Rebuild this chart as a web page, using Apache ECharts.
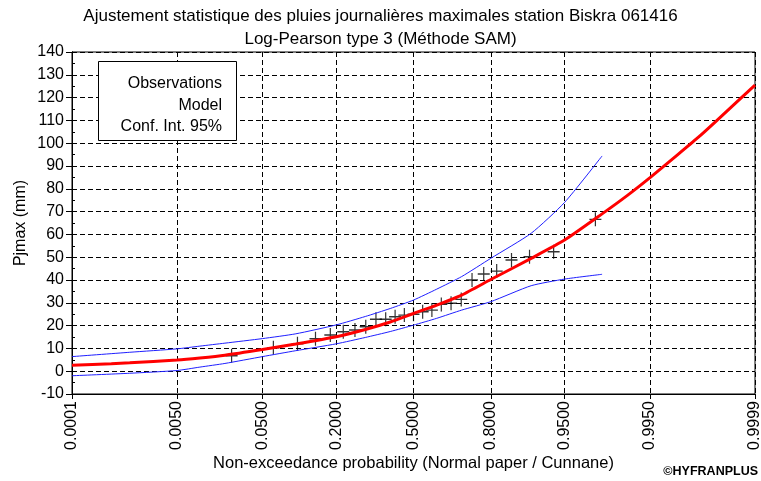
<!DOCTYPE html>
<html>
<head>
<meta charset="utf-8">
<script src="https://cdn.jsdelivr.net/npm/echarts@6/dist/echarts.min.js"></script>
<style>
  html, body { margin: 0; padding: 0; background: #ffffff; }
  #chart { width: 761px; height: 481px; }
</style>
</head>
<body>
<div id="chart"></div>
<script>
// ---- Texts ----
const titleLines = [
  'Ajustement statistique des pluies journalières maximales station Biskra 061416',
  'Log-Pearson type 3 (Méthode SAM)'
];
const xAxisTitle = 'Non-exceedance probability (Normal paper / Cunnane)';
const yAxisTitle = 'Pjmax (mm)';
const legendLabels = ['Observations', 'Model', 'Conf. Int. 95%'];
const copyright = '©HYFRANPLUS';

// ---- Axes ----
const probTicks = [0.0001, 0.005, 0.05, 0.2, 0.5, 0.8, 0.95, 0.995, 0.9999];
const probTickLabels = ['0.0001', '0.0050', '0.0500', '0.2000', '0.5000', '0.8000', '0.9500', '0.9950', '0.9999'];
const yMin = -10, yMax = 140, yStep = 10;

// ---- Observed maxima (Cunnane plotting positions, mm) ----
const obsProb = [0.0238, 0.0635, 0.1032, 0.1429, 0.1825, 0.2222, 0.2619, 0.3016, 0.3413, 0.3810,
                 0.4206, 0.4603, 0.5000, 0.5397, 0.5794, 0.6190, 0.6587, 0.6984, 0.7381, 0.7778,
                 0.8175, 0.8571, 0.8968, 0.9365, 0.9762];
const obsValue = [6.8, 10.3, 12.0, 14.2, 15.9, 17.3, 18.1, 19.5, 22.8, 22.8,
                  23.9, 24.6, 25.0, 26.1, 26.8, 29.3, 29.8, 31.5, 40.0, 42.6,
                  43.9, 48.8, 50.2, 52.4, 66.6];

// ---- Fitted Log-Pearson III quantiles ----
const modelProb = [0.0001, 0.0005, 0.001, 0.005, 0.01, 0.02, 0.05, 0.1, 0.2, 0.3, 0.4, 0.5,
                   0.6, 0.7, 0.8, 0.9, 0.95, 0.98, 0.99, 0.995, 0.998, 0.999, 0.9995, 0.9999];
const modelValue = [2.6, 3.3, 3.7, 4.9, 5.8, 7.0, 9.5, 11.9, 15.1, 18.3, 21.6, 25.3,
                    29.0, 33.4, 40.2, 49.5, 57.5, 69.0, 77.0, 84.9, 95.0, 102.2, 109.5, 125.5];

// ---- 95% confidence interval ----
const ciProb = [0.0001, 0.001, 0.005, 0.01, 0.02, 0.05, 0.1, 0.2, 0.3, 0.4, 0.5,
                0.6, 0.7, 0.8, 0.9, 0.95, 0.98];
const ciUpper = [6.4, 8.3, 9.8, 11.0, 12.3, 14.3, 16.4, 20.3, 24.0, 27.5, 31.2,
                 36.0, 41.5, 49.5, 60.5, 74.0, 94.4];
const ciLower = [-2.0, -0.9, 0.3, 1.8, 3.4, 6.4, 9.0, 12.0, 14.8, 17.4, 20.2,
                 23.2, 26.8, 30.5, 37.5, 40.4, 42.5];

// Normal-probability paper: probabilities are placed at their standard normal quantile.
function probit(p) {
  const a = [-3.969683028665376e+01, 2.209460984245205e+02, -2.759285104469687e+02,
             1.383577518672690e+02, -3.066479806614716e+01, 2.506628277459239e+00];
  const b = [-5.447609879822406e+01, 1.615858368580409e+02, -1.556989798598866e+02,
             6.680131188771972e+01, -1.328068155288572e+01];
  const c = [-7.784894002430293e-03, -3.223964580411365e-01, -2.400758277161838e+00,
             -2.549732539343734e+00, 4.374664141464968e+00, 2.938163982698783e+00];
  const d = [7.784695709041462e-03, 3.224671290700398e-01, 2.445134137142996e+00,
             3.754408661907416e+00];
  const pl = 0.02425, ph = 1 - pl;
  let q, r;
  if (p < pl) {
    q = Math.sqrt(-2 * Math.log(p));
    return (((((c[0] * q + c[1]) * q + c[2]) * q + c[3]) * q + c[4]) * q + c[5]) /
           ((((d[0] * q + d[1]) * q + d[2]) * q + d[3]) * q + 1);
  }
  if (p <= ph) {
    q = p - 0.5; r = q * q;
    return (((((a[0] * r + a[1]) * r + a[2]) * r + a[3]) * r + a[4]) * r + a[5]) * q /
           (((((b[0] * r + b[1]) * r + b[2]) * r + b[3]) * r + b[4]) * r + 1);
  }
  q = Math.sqrt(-2 * Math.log(1 - p));
  return -(((((c[0] * q + c[1]) * q + c[2]) * q + c[3]) * q + c[4]) * q + c[5]) /
          ((((d[0] * q + d[1]) * q + d[2]) * q + d[3]) * q + 1);
}

const zTicks = probTicks.map(probit);
const toPairs = (probs, vals) => probs.map((p, i) => [probit(p), vals[i]]);

const FONT = "'Liberation Sans', Arial, sans-serif";
const dashed = { color: '#000', width: 1, type: [5, 3] };

const chart = echarts.init(document.getElementById('chart'), null, { renderer: 'canvas' });

chart.setOption({
  animation: false,
  backgroundColor: '#ffffff',
  textStyle: { fontFamily: FONT, color: '#000' },
  title: {
    text: titleLines.join('\n'),
    left: 'center',
    top: 0,
    textStyle: { fontFamily: FONT, fontSize: 17, fontWeight: 'normal', color: '#000', lineHeight: 23 }
  },
  grid: {
    left: 72, right: 6, top: 52, bottom: 87,
    show: true, borderColor: '#000', borderWidth: 1, backgroundColor: 'transparent',
    containLabel: false, outerBoundsMode: 'none'
  },
  xAxis: {
    type: 'value',
    min: zTicks[0],
    max: zTicks[zTicks.length - 1],
    name: xAxisTitle,
    nameLocation: 'middle',
    nameGap: 61,
    nameMoveOverlap: false,
    nameTextStyle: { fontFamily: FONT, fontSize: 16.5, color: '#000' },
    axisLine: { onZero: false, lineStyle: { color: '#000', width: 1 } },
    axisTick: { show: true, length: 5, customValues: zTicks, lineStyle: { color: '#000' } },
    axisLabel: {
      customValues: zTicks,
      rotate: 90,
      margin: 7,
      fontFamily: FONT, fontSize: 16, color: '#000',
      formatter: function (v) {
        for (let i = 0; i < zTicks.length; i++) {
          if (Math.abs(zTicks[i] - v) < 1e-6) return probTickLabels[i];
        }
        return '';
      }
    },
    splitLine: { show: true, lineStyle: dashed }
  },
  yAxis: [{
    type: 'value',
    min: yMin, max: yMax, interval: yStep,
    name: yAxisTitle,
    nameLocation: 'middle',
    nameGap: 43,
    nameRotate: 90,
    nameMoveOverlap: false,
    nameTextStyle: { fontFamily: FONT, fontSize: 16, color: '#000' },
    axisLine: { show: true, onZero: false, lineStyle: { color: '#000', width: 1 } },
    axisTick: { show: true, length: 6, lineStyle: { color: '#000' } },
    axisLabel: { margin: 8, fontFamily: FONT, fontSize: 16, color: '#000' },
    splitLine: { show: true, lineStyle: dashed }
  }, {
    // inner minor ticks along the value axis
    type: 'value',
    position: 'left',
    min: yMin, max: yMax, interval: yStep,
    axisLine: { show: true, onZero: false, lineStyle: { color: '#000', width: 1 } },
    axisTick: { show: false, inside: true },
    axisLabel: { show: false },
    splitLine: { show: false },
    minorTick: { show: true, splitNumber: 2, length: 3, lineStyle: { color: '#000', width: 1 } }
  }],
  series: [
    {
      name: legendLabels[0],
      type: 'scatter',
      data: toPairs(obsProb, obsValue),
      symbol: 'path://M0,7L12,7M6,0L6,14',
      symbolSize: [12, 14],
      itemStyle: { color: 'transparent', borderColor: '#000', borderWidth: 1.3 },
      z: 2
    },
    {
      name: legendLabels[1],
      type: 'line',
      data: toPairs(modelProb, modelValue),
      showSymbol: false,
      smooth: 0.2,
      lineStyle: { color: '#ff0000', width: 3 },
      z: 4
    },
    {
      name: legendLabels[2],
      type: 'line',
      data: toPairs(ciProb, ciUpper),
      showSymbol: false,
      smooth: 0.2,
      lineStyle: { color: '#1f1fff', width: 1 },
      z: 3
    },
    {
      name: legendLabels[2] + ' (lower)',
      type: 'line',
      data: toPairs(ciProb, ciLower),
      showSymbol: false,
      smooth: 0.2,
      lineStyle: { color: '#1f1fff', width: 1 },
      z: 3
    }
  ],
  graphic: [
    { type: 'rect', z: 100, shape: { x: 98.5, y: 61.5, width: 138, height: 79 },
      style: { fill: '#ffffff', stroke: '#000', lineWidth: 1 } },
    { type: 'text', z: 101, x: 222, y: 84, style: { text: legendLabels[0], font: '16px ' + FONT, fill: '#000', align: 'right', verticalAlign: 'middle' } },
    { type: 'text', z: 101, x: 222, y: 106, style: { text: legendLabels[1], font: '16px ' + FONT, fill: '#000', align: 'right', verticalAlign: 'middle' } },
    { type: 'text', z: 101, x: 222, y: 127, style: { text: legendLabels[2], font: '16px ' + FONT, fill: '#000', align: 'right', verticalAlign: 'middle' } },
    { type: 'text', z: 101, right: 3, top: 465,
      style: { text: copyright, font: 'bold 12.5px ' + FONT, fill: '#000' } }
  ]
});
</script>
</body>
</html>
